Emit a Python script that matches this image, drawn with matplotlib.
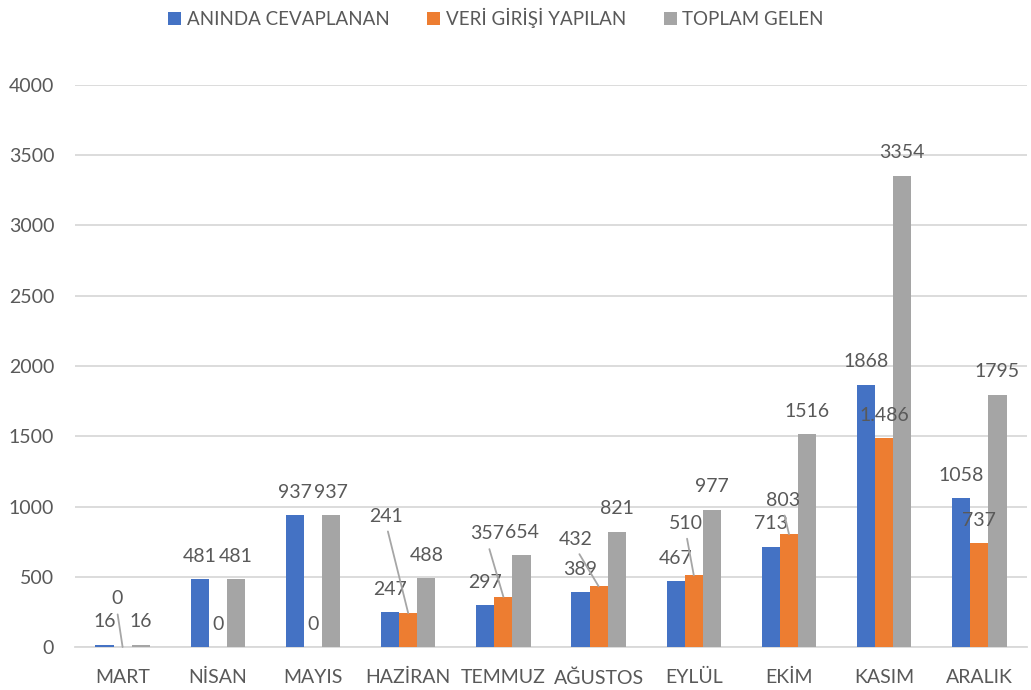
import numpy as np
import matplotlib
matplotlib.use('Agg')
import matplotlib.pyplot as plt

# veriler
aylar = ['MART', 'NİSAN', 'MAYIS', 'HAZİRAN', 'TEMMUZ', 'AĞUSTOS', 'EYLÜL', 'EKİM', 'KASIM', 'ARALIK']
aninda = [16, 481, 937, 247, 297, 389, 467, 713, 1868, 1058]
veri_girisi = [0, 0, 0, 241, 357, 432, 510, 803, 1486, 737]
toplam = [16, 481, 937, 488, 654, 821, 977, 1516, 3354, 1795]
seri_adlari = ['ANINDA CEVAPLANAN', 'VERİ GİRİŞİ YAPILAN', 'TOPLAM GELEN']

renkler = ['#4472C4', '#ED7D31', '#A5A5A5']
yazi_rengi = '#595959'

# elle taşınmış etiketler (seri, ay) -> piksel kaydırma (dx, dy)
tasinan = {(1, 0): (-6, 48), (1, 3): (-22, 97), (1, 4): (-16, 63),
           (1, 5): (-23, 47), (1, 6): (-8, 52), (1, 7): (-6, 34)}

plt.rcParams['font.family'] = ['Lato', 'DejaVu Sans']

fig = plt.figure(figsize=(10.31, 6.9), dpi=100)
ax = fig.add_axes([75 / 1031, 43 / 690, 952 / 1031, 562 / 690])

x = np.arange(len(aylar))
w = 0.19
seriler = [aninda, veri_girisi, toplam]

for i, s in enumerate(seriler):
    xs = x + (i - 1) * w
    ax.bar(xs, s, w, color=renkler[i], label=seri_adlari[i], zorder=3)
    for j, v in enumerate(s):
        metin = f'{v:,}'.replace(',', '.') if v >= 1000 and i == 1 else str(v)
        if (i, j) in tasinan:
            dx, dy = tasinan[(i, j)]
            ax.annotate(metin, xy=(xs[j], v), xytext=(dx, dy), textcoords='offset pixels',
                        ha='center', va='center', fontsize=14, color=yazi_rengi,
                        arrowprops=dict(arrowstyle='-', color='#A6A6A6', lw=1.3,
                                        relpos=(0.5, 0), shrinkA=3, shrinkB=0), zorder=4)
        else:
            ax.annotate(metin, xy=(xs[j], v), xytext=(0, 23), textcoords='offset pixels',
                        ha='center', va='center', fontsize=14, color=yazi_rengi, zorder=4)

ax.set_xlim(-0.5, len(aylar) - 0.5)
ax.set_ylim(0, 4000)
ax.set_yticks(range(0, 4001, 500))
ax.set_xticks(x)
ax.set_xticklabels(aylar)
ax.grid(axis='y', color='#D9D9D9', lw=1.3, zorder=0)
for sp in ['top', 'right', 'left']:
    ax.spines[sp].set_visible(False)
ax.spines['bottom'].set_color('#D9D9D9')
ax.spines['bottom'].set_linewidth(1.3)
ax.tick_params(axis='both', length=0, labelsize=14, labelcolor=yazi_rengi)
ax.tick_params(axis='y', pad=15)
ax.tick_params(axis='x', pad=16)

fig.legend(loc='center', bbox_to_anchor=(496 / 1031, 1 - 18 / 690), ncol=3, frameon=False,
           fontsize=13.5, labelcolor=yazi_rengi, handlelength=0.7, handleheight=0.7,
           handletextpad=0.3, columnspacing=2.0)

fig.savefig('out.png', dpi=100)
